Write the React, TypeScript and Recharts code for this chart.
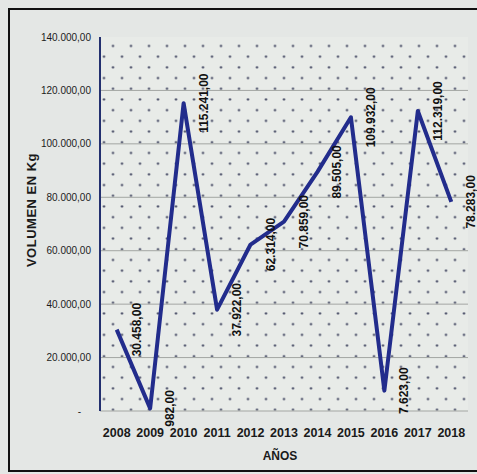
import { CartesianGrid, LabelList, Line, LineChart, XAxis, YAxis } from "recharts";

const years = ["2008", "2009", "2010", "2011", "2012", "2013", "2014", "2015", "2016", "2017", "2018"];
const volumes = [30458, 982, 115241, 37922, 62314, 70859, 89505, 109932, 7623, 112319, 78283];
const yTicks = [0, 20000, 40000, 60000, 80000, 100000, 120000, 140000];

const data = years.map((year, i) => ({ year, volumen: volumes[i] }));

const FONT = "'Liberation Sans', Arial, sans-serif";
const NAVY = "#222c8c";
const FRAME = "#23306f";
// half a category band, so points sit in the middle of each year slot
const EDGE = { left: 16.7, right: 16.7 };

// 12345.6 -> "12.345,60"
function fmt(v: number) {
  const [int, dec] = v.toFixed(2).split(".");
  return int.replace(/\B(?=(\d{3})+(?!\d))/g, ".") + "," + dec;
}

function YTick({ x, y, payload }: any) {
  const v = payload.value as number;
  return (
    <text
      x={v === 0 ? x - 10 : x}
      y={y}
      dy={3.5}
      textAnchor="end"
      fontSize={10}
      fontFamily={FONT}
      fill="#1c1c1c"
    >
      {v === 0 ? "-" : fmt(v)}
    </text>
  );
}

function ValueLabel(props: any) {
  const cx = Number(props.x) + 20;
  const cy = Number(props.y);
  return (
    <text
      x={cx}
      y={cy}
      transform={`rotate(-90 ${cx} ${cy})`}
      textAnchor="middle"
      dominantBaseline="central"
      fontSize={12}
      fontWeight="bold"
      fontFamily={FONT}
      fill="#111"
    >
      {fmt(Number(props.value))}
    </text>
  );
}

function YTitle({ viewBox }: any) {
  const cx = viewBox.x + 11;
  const cy = viewBox.y + viewBox.height / 2 - 14;
  return (
    <text
      x={cx}
      y={cy}
      transform={`rotate(-90 ${cx} ${cy})`}
      textAnchor="middle"
      dominantBaseline="central"
      fontSize={13}
      fontWeight="bold"
      letterSpacing={0.5}
      fontFamily={FONT}
      fill="#1a1a1a"
    >
      VOLUMEN EN Kg
    </text>
  );
}

function XTitle({ viewBox }: any) {
  return (
    <text
      x={viewBox.x + viewBox.width / 2 - 4}
      y={456}
      textAnchor="middle"
      dominantBaseline="central"
      fontSize={12}
      fontWeight="bold"
      fontFamily={FONT}
      fill="#1a1a1a"
    >
      AÑOS
    </text>
  );
}

export default function App() {
  return (
    <div
      style={{
        position: "absolute",
        left: 0,
        top: 0,
        width: 477,
        height: 474,
        overflow: "hidden",
        background: "#e4e7e5",
      }}
    >
      <div
        style={{
          position: "absolute",
          left: 8,
          top: 8,
          width: 600,
          height: 464,
          boxSizing: "border-box",
          border: "2px solid #111",
        }}
      />
      <div style={{ position: "absolute", left: 0, top: 0 }}>
        <LineChart width={477} height={474} data={data} margin={{ top: 37, right: 9, bottom: 33, left: 20 }}>
          <defs>
            <pattern id="dotgrid" patternUnits="userSpaceOnUse" x={108.5} y={40.65} width={18} height={21.4}>
              <rect width={18} height={21.4} fill="#e8ebe8" />
              <circle cx={4.5} cy={5.35} r={1.1} fill="#2d3150" />
              <circle cx={13.5} cy={16.05} r={1.1} fill="#2d3150" />
            </pattern>
          </defs>
          <CartesianGrid
            vertical={false}
            horizontalValues={yTicks.slice(0, -1)}
            stroke="#a3a6a3"
            fill="url(#dotgrid)"
            fillOpacity={1}
          />
          <XAxis
            dataKey="year"
            height={30}
            padding={EDGE}
            interval={0}
            axisLine={false}
            tickLine={false}
            tickMargin={11}
            tick={{ fontSize: 12.5, fontWeight: "bold", fontFamily: FONT, fill: "#1a1a1a" }}
            label={<XTitle />}
          />
          <XAxis
            xAxisId="top"
            dataKey="year"
            orientation="top"
            height={0}
            padding={EDGE}
            tick={false}
            tickLine={false}
            axisLine={{ stroke: FRAME, strokeWidth: 2 }}
          />
          <YAxis
            width={80}
            domain={[0, 140000]}
            ticks={yTicks}
            interval={0}
            tickLine={false}
            tickMargin={3}
            axisLine={{ stroke: FRAME, strokeWidth: 2 }}
            tick={<YTick />}
            label={<YTitle />}
          />
          <YAxis
            yAxisId="right"
            orientation="right"
            width={0}
            domain={[0, 1]}
            tick={false}
            tickLine={false}
            axisLine={{ stroke: FRAME, strokeWidth: 2 }}
          />
          <Line
            type="linear"
            dataKey="volumen"
            stroke={NAVY}
            strokeWidth={4}
            strokeLinejoin="round"
            dot={false}
            activeDot={false}
            isAnimationActive={false}
          >
            <LabelList dataKey="volumen" content={<ValueLabel />} />
          </Line>
        </LineChart>
      </div>
    </div>
  );
}
